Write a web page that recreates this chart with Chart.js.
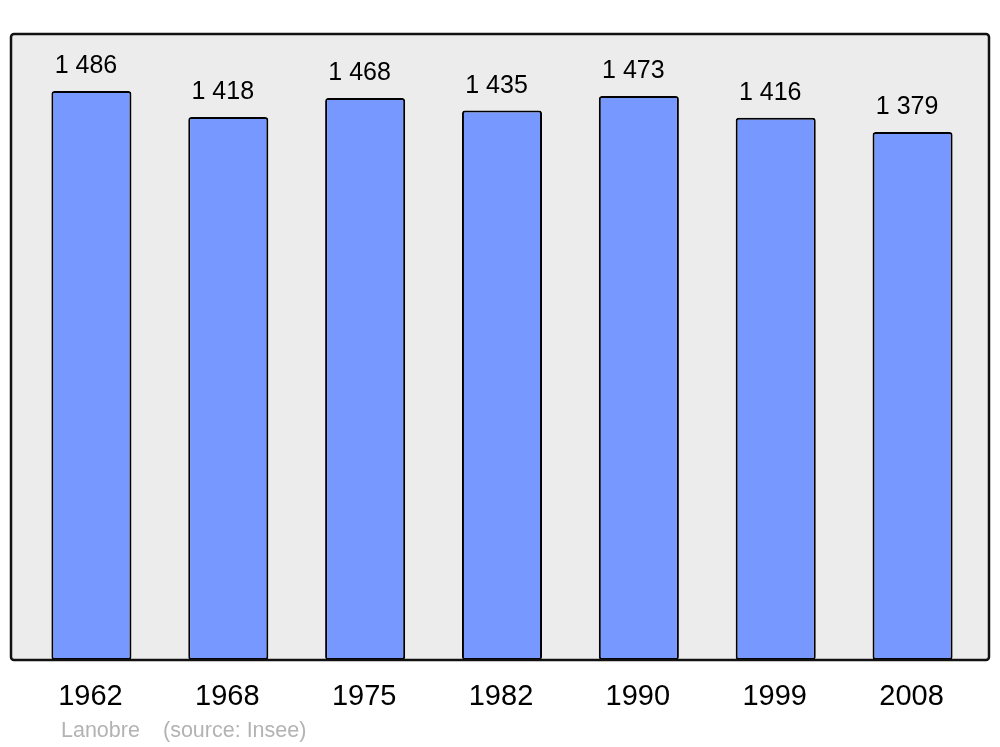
<!DOCTYPE html>
<html>
<head>
<meta charset="utf-8">
<script src="https://cdn.jsdelivr.net/npm/chart.js@4/dist/chart.umd.min.js"></script>
<style>
html,body{margin:0;padding:0;background:#fff;}
#wrap{width:1000px;height:747px;position:relative;}
</style>
</head>
<body>
<div id="wrap"><canvas id="c" width="1000" height="747"></canvas></div>
<script>
const years = ["1962","1968","1975","1982","1990","1999","2008"];
const population = [1486, 1418, 1468, 1435, 1473, 1416, 1379];
const footerLeft = "Lanobre";
const footerRight = "(source: Insee)";

const FONT = '"Liberation Sans", Arial, sans-serif';
function fmt(v){ return String(v).replace(/\B(?=(\d{3})+(?!\d))/g, " "); }

const framePlugin = {
  id: 'frame',
  beforeDraw(chart){
    const ctx = chart.ctx;
    const x0 = 11, y0 = 34, x1 = 989, y1 = 660, r = 3;
    ctx.save();
    ctx.beginPath();
    ctx.roundRect(x0, y0, x1 - x0, y1 - y0, r);
    ctx.fillStyle = '#ececec';
    ctx.fill();
    ctx.restore();
  },
  afterDatasetsDraw(chart){
    const ctx = chart.ctx;
    const x0 = 11, y0 = 34, x1 = 989, y1 = 660, r = 3;
    ctx.save();
    ctx.beginPath();
    ctx.roundRect(x0, y0, x1 - x0, y1 - y0, r);
    ctx.lineWidth = 2.5;
    ctx.strokeStyle = '#111';
    ctx.stroke();
    // value labels
    const meta = chart.getDatasetMeta(0);
    ctx.fillStyle = '#000';
    ctx.font = '25px ' + FONT;
    ctx.textAlign = 'center';
    ctx.textBaseline = 'alphabetic';
    meta.data.forEach((bar, i) => {
      ctx.fillText(fmt(chart.data.datasets[0].data[i]), bar.x - 5.5, bar.y - 18);
    });
    // category labels
    const xs = chart.scales.x;
    ctx.font = '29px ' + FONT;
    chart.data.labels.forEach((lab, i) => {
      ctx.fillText(lab, xs.getPixelForTick(i) - 1, 705);
    });
    // footer
    ctx.fillStyle = '#b3b3b3';
    ctx.font = '21.5px ' + FONT;
    ctx.textAlign = 'left';
    ctx.fillText(footerLeft, 61, 737);
    ctx.fillText(footerRight, 163, 737);
    ctx.restore();
  }
};

new Chart(document.getElementById('c'), {
  type: 'bar',
  data: {
    labels: years,
    datasets: [{
      data: population,
      backgroundColor: '#7799ff',
      borderColor: '#000',
      borderWidth: 2,
      borderRadius: 3,
      borderSkipped: false,
      barPercentage: 0.585,
      categoryPercentage: 1
    }]
  },
  options: {
    responsive: false,
    animation: false,
    layout: { padding: { left: 23, right: 19, top: 34, bottom: 0 } },
    plugins: { legend: { display: false }, tooltip: { enabled: false } },
    scales: {
      y: { display: false, min: 0, max: 1635 },
      x: {
        grid: { display: false, drawTicks: false },
        border: { display: false },
        ticks: { display: false },
        afterFit(scale){ scale.height = 87; }
      }
    }
  },
  plugins: [framePlugin]
});
</script>
</body>
</html>
